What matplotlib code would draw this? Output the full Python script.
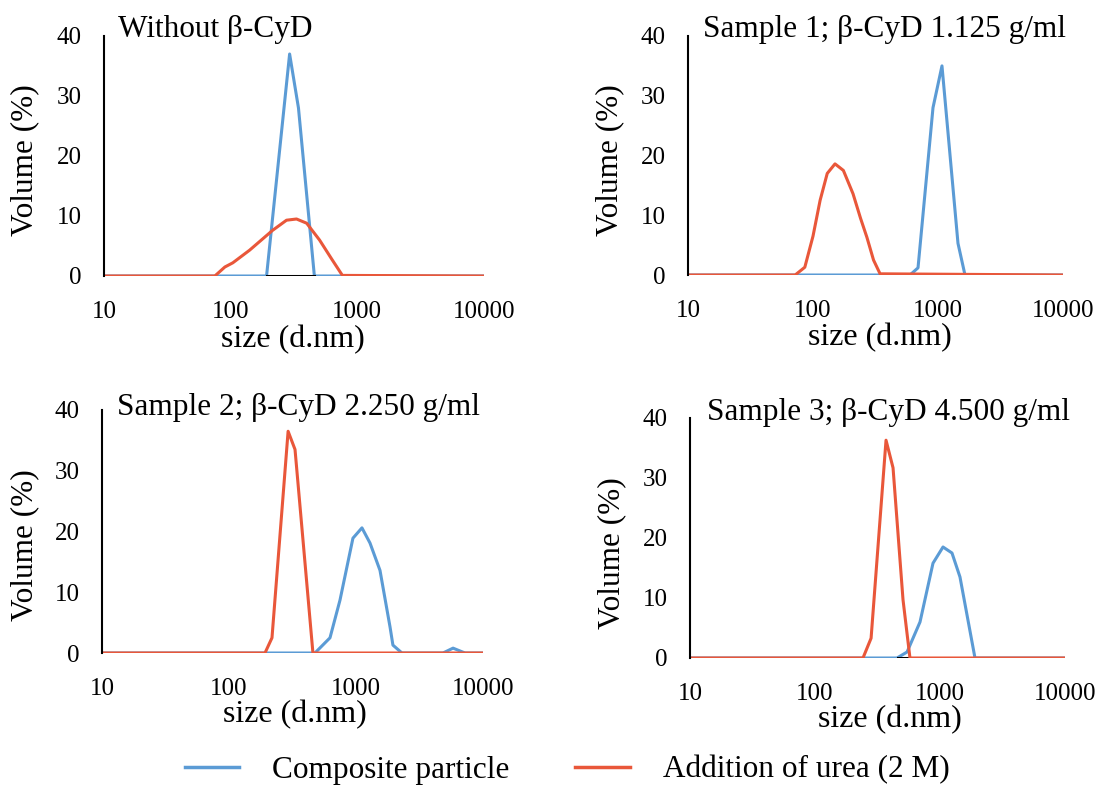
import matplotlib
matplotlib.use("Agg")
import matplotlib.pyplot as plt
from matplotlib.lines import Line2D

plt.rcParams['font.family'] = ['Liberation Serif', 'DejaVu Serif']

blue = '#5B9BD5'
red = '#E9573A'

titles = ["Without \u03b2-CyD",
          "Sample 1; \u03b2-CyD 1.125 g/ml",
          "Sample 2; \u03b2-CyD 2.250 g/ml",
          "Sample 3; \u03b2-CyD 4.500 g/ml"]

# composite particle (blue) and urea (red): size in nm / volume %
p0_blue_x = [10, 192, 292, 343, 458, 10000]
p0_blue_y = [0, 0, 37, 28, 0, 0]
p0_red_x = [10, 75, 90, 104, 141, 214, 276, 331, 398, 503, 633, 762, 10000]
p0_red_y = [0, 0, 1.5, 2.2, 4.3, 7.6, 9.3, 9.5, 8.8, 6.0, 2.7, 0.1, 0]
p0_black_x = [192, 458]
p0_black_y = [0, 0]

p1_blue_x = [10, 597, 692, 912, 1076, 1445, 1644, 10000]
p1_blue_y = [0, 0, 1.2, 28, 35, 5.3, 0, 0]
p1_red_x = [10, 72, 86, 100, 114, 130, 150, 175, 209, 240, 270, 305, 344, 10000]
p1_red_y = [0, 0, 1.3, 6.5, 12.5, 17, 18.6, 17.5, 13.6, 9.5, 6.3, 2.5, 0.2, 0]

p2_blue_x = [10, 475, 624, 748, 946, 1114, 1289, 1545, 1853, 1953, 2300, 4842, 5810, 7217, 10000]
p2_blue_y = [0, 0, 2.5, 8.7, 18.9, 20.6, 18.1, 13.6, 4.3, 1.3, 0, 0, 0.8, 0, 0]
p2_red_x = [10, 192, 218, 292, 331, 458, 10000]
p2_red_y = [0, 0, 2.5, 36.5, 33.5, 0, 0]

p3_blue_x = [10, 453, 545, 692, 879, 1057, 1247, 1445, 1905, 10000]
p3_blue_y = [0, 0, 1.0, 6.0, 15.8, 18.5, 17.5, 13.5, 0, 0]
p3_red_x = [10, 242, 281, 370, 421, 506, 575, 10000]
p3_red_y = [0, 0, 3.3, 36.3, 31.7, 9.7, 0, 0]
p3_black_x = [460, 575]
p3_black_y = [0, 0]

blue_x = [p0_blue_x, p1_blue_x, p2_blue_x, p3_blue_x]
blue_y = [p0_blue_y, p1_blue_y, p2_blue_y, p3_blue_y]
red_x = [p0_red_x, p1_red_x, p2_red_x, p3_red_x]
red_y = [p0_red_y, p1_red_y, p2_red_y, p3_red_y]
black_x = [p0_black_x, None, None, p3_black_x]
black_y = [p0_black_y, None, None, p3_black_y]

W, H = 1113, 787
fig = plt.figure(figsize=(W / 100, H / 100), dpi=100)

# axes boxes in pixels: left, right, top, bottom
boxes = [(104, 484, 36, 276), (688, 1063, 36, 275),
         (102, 483, 410, 653), (690, 1065, 418, 658)]
title_pos = [(118, 30), (703, 30), (117, 408), (707, 412)]
ylab_pos = [(25, 160), (610, 160), (25, 545), (612, 553)]
xlab_pos = [(293, 340), (880, 338), (295, 715), (890, 720)]

def fx(x):
    return x / W

def fy(y):
    return 1 - y / H

for i in range(4):
    l, r, t, b = boxes[i]
    ax = fig.add_axes([fx(l), fy(b), (r - l) / W, (b - t) / H])
    ax.plot(blue_x[i], blue_y[i], color=blue, lw=2.2)
    if black_x[i] is not None:
        ax.plot(black_x[i], black_y[i], color='black', lw=2.2)
    ax.plot(red_x[i], red_y[i], color=red, lw=2.2)
    ax.set_xscale('log')
    ax.set_xlim(10, 10000)
    ax.set_ylim(0, 40)
    ax.set_xticks([10, 100, 1000, 10000])
    ax.set_xticklabels(['10', '100', '1000', '10000'])
    ax.set_yticks([0, 10, 20, 30, 40])
    ax.minorticks_off()
    ax.tick_params(axis='x', length=0, pad=18, labelsize=18)
    ax.tick_params(axis='y', length=0, pad=16, labelsize=18)
    for s in ['top', 'right', 'bottom']:
        ax.spines[s].set_visible(False)
    ax.spines['left'].set_linewidth(1.5)
    ax.patch.set_visible(False)

    tx, ty = title_pos[i]
    fig.text(fx(tx), fy(ty), titles[i], fontsize=22.5, ha='left', va='center')
    yx, yy = ylab_pos[i]
    fig.text(fx(yx), fy(yy), 'Volume (%)', fontsize=22.5, rotation=90, ha='center', va='center')
    xx, xy = xlab_pos[i]
    fig.text(fx(xx), fy(xy), 'size (d.nm)', fontsize=23, ha='center', va='center')

handles = [Line2D([], [], color=blue, lw=2.5), Line2D([], [], color=red, lw=2.5)]
fig.legend(handles, ['Composite particle', 'Addition of urea (2 M)'],
           loc='center', bbox_to_anchor=(fx(567), fy(770)), ncol=2, frameon=False,
           fontsize=22.5, handlelength=1.75, handletextpad=1.05, columnspacing=2.1)

fig.savefig('out.png', dpi=100)
